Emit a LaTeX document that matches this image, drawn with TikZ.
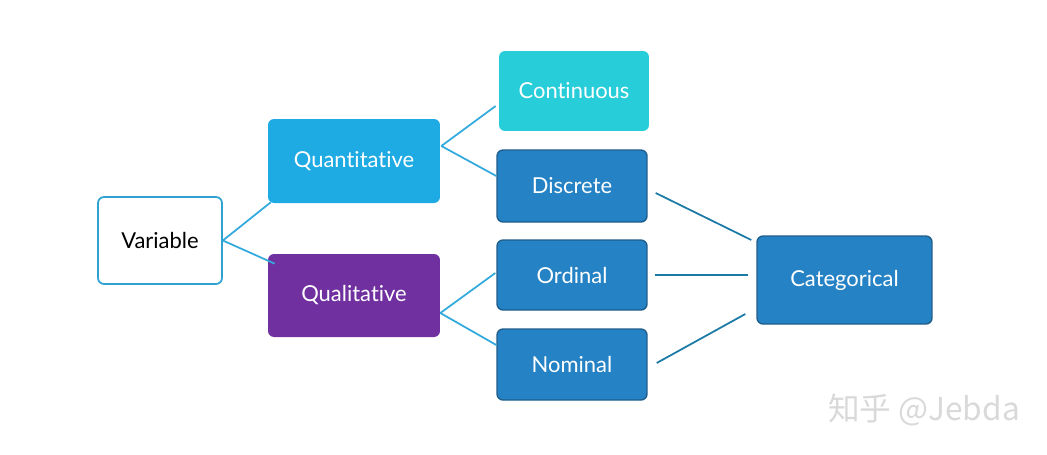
\documentclass[tikz,border=0pt]{standalone}
\usepackage{fontspec}
\setmainfont{Lato}[Ligatures=CommonOff]
\newfontfamily\cjkfont{Noto Sans CJK SC}
\usetikzlibrary{calc}

\definecolor{quantblue}{HTML}{1EABE3}
\definecolor{contcyan}{HTML}{27CDD9}
\definecolor{qualpurple}{HTML}{7030A0}
\definecolor{catblue}{HTML}{2582C5}
\definecolor{catedge}{HTML}{205E8C}
\definecolor{varedge}{HTML}{2FA2D2}
\definecolor{lineleft}{HTML}{33AADD}
\definecolor{lineright}{HTML}{1B7AA5}

\begin{document}
\begin{tikzpicture}[
    x=0.02cm, y=-0.02cm,
    box/.style={rectangle, rounded corners=0.12cm, align=center, inner sep=0pt,
                text=white, font=\fontsize{12.5}{15}\selectfont},
    catbox/.style={box, fill=catblue, draw=catedge, line width=0.8pt,
                   minimum width=3cm, minimum height=1.42cm},
    lnleft/.style={draw=lineleft, line width=1pt},
    lnright/.style={draw=lineright, line width=1pt}
]
\useasboundingbox (0,0) rectangle (1047,454);

\node (var) [box, fill=white, draw=varedge, line width=1pt, text=black,
             minimum width=2.48cm, minimum height=1.74cm] at (160,240.5) {Variable};
\node (quant) [box, fill=quantblue, minimum width=3.44cm, minimum height=1.68cm] at (354,161) {Quantitative};
\node (qual) [box, fill=qualpurple, minimum width=3.44cm, minimum height=1.66cm] at (354,295.5) {Qualitative};
\node (cont) [box, fill=contcyan, minimum width=3cm, minimum height=1.6cm] at (574,91) {Continuous};
\node (disc) [catbox, minimum height=1.44cm] at (572,186) {Discrete};
\node (ord) [catbox, minimum height=1.4cm] at (572,275) {Ordinal};
\node (nom) [catbox] at (572,364.5) {Nominal};
\node (cat) [catbox, minimum width=3.5cm, minimum height=1.76cm] at (844.5,280) {Categorical};

\node (mark) [text=gray!30, font=\cjkfont\fontsize{18}{20}\selectfont] at (924,410) {知乎 @Jebda};

\draw[lnleft] (var.east) -- ([shift={(3,-1)}]quant.south west);
\draw[lnleft] (var.east) -- ([shift={(7,10)}]qual.north west);
\draw[lnleft] ([shift={(1,-15)}]quant.east) -- ([shift={(-3,15)}]cont.west);
\draw[lnleft] ([shift={(1,-15)}]quant.east) -- ([shift={(0,-10)}]disc.west);
\draw[lnleft] ([shift={(0,17.5)}]qual.east) -- ([shift={(-1,-2)}]ord.west);
\draw[lnleft] ([shift={(0,17.5)}]qual.east) -- ([shift={(0,-19.5)}]nom.west);
\draw[lnright] ([shift={(8,7)}]disc.east) -- ([shift={(-5,-40)}]cat.west);
\draw[lnright] ([shift={(7,0)}]ord.east) -- ([shift={(-8,-5)}]cat.west);
\draw[lnright] ([shift={(9,-1.5)}]nom.east) -- ([shift={(-11,34)}]cat.west);

\end{tikzpicture}
\end{document}
